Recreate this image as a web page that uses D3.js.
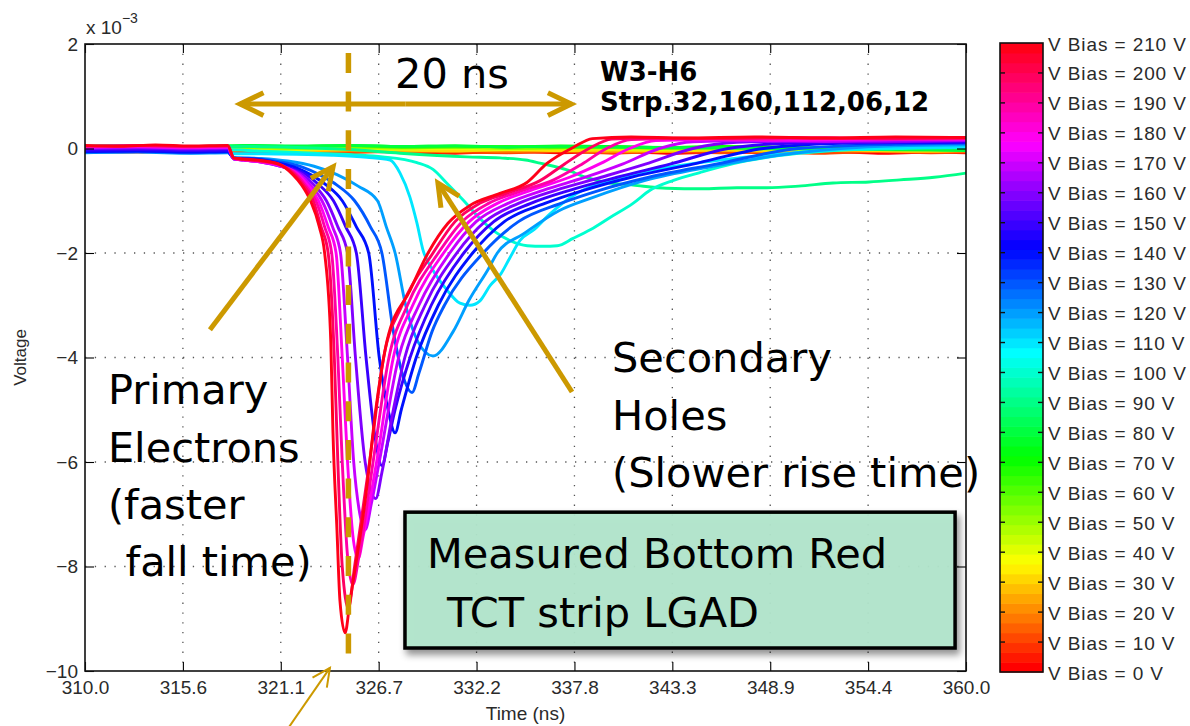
<!DOCTYPE html>
<html>
<head>
<meta charset="utf-8">
<script src="https://cdn.jsdelivr.net/npm/d3@7"></script>
<style>
  html, body { margin: 0; padding: 0; background: #ffffff; }
  svg { display: block; }
</style>
</head>
<body>
<svg id="chart" width="1190" height="726"></svg>
<script>
// ---- Bias voltages (V) and axis ticks ----
const biasVoltages = [0, 10, 20, 30, 40, 50, 60, 70, 80, 90, 100, 110, 120, 130, 140, 150, 160, 170, 180, 190, 200, 210];
const timeTicks = [310, 315.556, 321.111, 326.667, 332.222, 337.778, 343.333, 348.889, 354.444, 360];
const voltageTicks = [2, 0, -2, -4, -6, -8, -10];

// ---- Low-bias traces (no gain): sample times (ns) and voltages (x 10^-3 V) ----
const flatTimes = [310, 313, 316, 319, 322, 325, 328, 331, 334, 337, 340, 343, 346, 349, 352, 355, 358, 360];
const trace000 = [-0.05, -0.07, -0.04, -0.06, -0.08, -0.05, -0.07, -0.09, -0.06, -0.08, -0.06, -0.09, -0.07, -0.08, -0.06, -0.09, -0.07, -0.08];
const trace010 = [-0.06, -0.04, -0.07, -0.05, -0.06, -0.08, -0.05, -0.07, -0.08, -0.06, -0.09, -0.06, -0.08, -0.07, -0.09, -0.06, -0.08, -0.07];
const trace020 = [-0.03, -0.05, -0.04, -0.02, -0.05, -0.04, -0.06, -0.03, -0.05, -0.04, -0.06, -0.05, -0.03, -0.06, -0.04, -0.05, -0.06, -0.05];
const trace030 = [-0.02, -0.01, -0.03, -0.02, -0.04, -0.02, -0.03, -0.05, -0.02, -0.04, -0.03, -0.05, -0.03, -0.04, -0.02, -0.04, -0.05, -0.03];
const trace040 = [0.0, 0.01, -0.01, 0.0, -0.02, 0.01, -0.01, 0.0, -0.02, 0.0, -0.01, -0.02, 0.0, -0.01, -0.03, -0.01, -0.02, -0.02];
const trace050 = [0.02, 0.03, 0.01, 0.02, 0.0, 0.02, 0.01, 0.03, 0.0, 0.01, 0.02, 0.0, 0.01, -0.01, 0.01, 0.0, -0.01, 0.0];
const trace060 = [0.03, 0.04, 0.02, 0.04, 0.03, 0.05, 0.02, 0.03, 0.04, 0.02, 0.03, 0.01, 0.03, 0.02, 0.0, 0.02, 0.01, -0.01];
const trace070 = [0.04, 0.05, 0.03, 0.05, 0.04, 0.06, 0.04, 0.05, 0.03, 0.05, 0.04, 0.02, 0.04, 0.03, 0.01, 0.02, 0.0, -0.02];
const trace080 = [0.05, 0.06, 0.04, 0.06, 0.05, 0.06, 0.04, 0.05, 0.03, 0.04, 0.03, 0.02, 0.01, 0.0, -0.01, -0.02, -0.03, -0.04];

// ---- Traces with signal: [time (ns), voltage (x 10^-3 V)] ----
const trace090 = [[310,0.03],[313,0.04],[316,0.02],[319,0.04],[322,0.02],[325,-0.02],[327.88,-0.09],[331.68,-0.16],[333.55,-0.18],[335.0,-0.22],[335.82,-0.28],[337.36,-0.41],[338.4,-0.55],[339.6,-0.65],[341.1,-0.7],[343.0,-0.76],[345,-0.77],[347,-0.75],[348.7,-0.75],[350.5,-0.72],[352.45,-0.66],[354.5,-0.64],[356.25,-0.6],[358.2,-0.55],[360,-0.47]];
const trace100 = [[310,-0.02],[313,-0.03],[316,-0.01],[318,-0.02],[320,-0.05],[323,-0.09],[326.9,-0.16],[328.84,-0.27],[329.75,-0.4],[330.55,-0.67],[331.5,-1.0],[332.3,-1.3],[333.3,-1.6],[334.1,-1.76],[335.1,-1.86],[336.0,-1.87],[336.8,-1.86],[337.7,-1.72],[338.7,-1.55],[339.8,-1.32],[341.1,-1.05],[342.07,-0.8],[343.4,-0.61],[344.9,-0.46],[346.8,-0.29],[348.7,-0.17],[352.5,-0.04],[356,0.0],[360,0.02]];
const trace110 = [[310,-0.05],[313,-0.06],[316,-0.04],[318.1,-0.05],[318.45,-0.1],[320,-0.1],[322,-0.11],[324,-0.13],[326,-0.17],[327.31,-0.22],[327.88,-0.47],[328.44,-0.93],[328.84,-1.43],[329.18,-1.94],[329.75,-2.33],[330.55,-2.71],[331.28,-2.96],[331.85,-3.0],[332.4,-2.92],[333.0,-2.62],[333.6,-2.4],[334.1,-2.1],[334.69,-1.76],[335.5,-1.55],[336.3,-1.28],[337.9,-0.86],[339.8,-0.61],[342.07,-0.42],[344.9,-0.27],[349,-0.12],[354,0.0],[360,0.03]];
const trace120 = [[310,-0.08],[313,-0.07],[316,-0.09],[318.1,-0.08],[318.45,-0.17],[320,-0.19],[321.5,-0.24],[323,-0.34],[324.3,-0.5],[325.5,-0.72],[326.6,-1.0],[327.1,-1.5],[327.6,-2.0],[328.2,-3.0],[328.9,-3.7],[329.75,-3.97],[330.9,-3.5],[331.8,-2.9],[332.9,-2.3],[333.4,-2.0],[334.9,-1.63],[336.9,-1.19],[338.8,-0.94],[341.8,-0.61],[345.5,-0.35],[350,-0.1],[356,0.05],[360,0.07]];
const trace130 = [[310,-0.07],[313,-0.06],[316,-0.08],[318.1,-0.07],[318.45,-0.18],[319.5,-0.19],[321,-0.25],[322.3,-0.35],[323.3,-0.5],[324.3,-0.7],[325.3,-1.0],[326.2,-1.5],[326.85,-2.0],[327.5,-3.5],[328.0,-4.3],[328.56,-4.67],[328.95,-4.3],[329.7,-3.5],[330.4,-3.0],[332.6,-2.0],[334.6,-1.4],[337.0,-1.05],[339.2,-0.8],[342.0,-0.55],[345.8,-0.3],[350.5,0.0],[356,0.08],[360,0.1]];
const trace140 = [[310,-0.06],[313,-0.05],[316,-0.07],[318.1,-0.06],[318.45,-0.19],[319.5,-0.2],[321,-0.28],[322,-0.37],[322.8,-0.5],[323.7,-0.7],[324.6,-1.0],[325.4,-1.5],[326.1,-2.0],[326.7,-4.0],[327.2,-5.0],[327.6,-5.44],[327.95,-5.0],[328.8,-4.0],[330.05,-3.0],[332.0,-2.0],[333.8,-1.4],[336.1,-1.05],[338.3,-0.8],[341.0,-0.55],[344.5,-0.3],[348.5,0.0],[353,0.1],[357,0.11],[360,0.12]];
const trace150 = [[310,-0.03],[313,-0.02],[316,-0.04],[318.1,-0.03],[318.45,-0.2],[319,-0.21],[320,-0.25],[321,-0.32],[322.55,-0.5],[323.3,-0.7],[324.1,-1.0],[324.8,-1.5],[325.4,-2.0],[325.95,-4.0],[326.45,-5.5],[326.86,-6.07],[327.2,-5.6],[327.6,-5.0],[328.45,-4.0],[329.65,-3.0],[331.5,-2.0],[333.2,-1.4],[335.3,-1.05],[337.5,-0.8],[340.2,-0.55],[343.2,-0.3],[346.5,0.0],[350,0.1],[355,0.12],[360,0.13]];
const trace160 = [[310,0.0],[313,0.01],[316,-0.01],[318.1,0.0],[318.45,-0.2],[319,-0.22],[320,-0.26],[321,-0.33],[322.35,-0.5],[323.0,-0.7],[323.7,-1.0],[324.35,-1.5],[324.9,-2.0],[325.35,-4.0],[325.9,-6.0],[326.5,-6.7],[326.85,-6.2],[327.5,-5.0],[328.15,-4.0],[329.3,-3.0],[331.1,-2.0],[332.7,-1.4],[334.6,-1.05],[336.7,-0.8],[339.3,-0.55],[341.8,-0.3],[344.5,0.0],[347,0.12],[350,0.14],[355,0.13],[360,0.15]];
const trace170 = [[310,0.02],[313,0.03],[316,0.01],[318.1,0.02],[318.45,-0.2],[319,-0.22],[320,-0.26],[321,-0.33],[322.2,-0.5],[322.8,-0.7],[323.45,-1.0],[324.05,-1.5],[324.5,-2.0],[324.9,-4.0],[325.25,-6.0],[325.55,-6.9],[325.9,-7.3],[326.25,-6.8],[326.7,-6.0],[327.8,-4.0],[328.95,-3.0],[330.7,-2.0],[332.2,-1.4],[334.0,-1.05],[336.0,-0.8],[338.4,-0.55],[340.5,-0.3],[342.6,0.0],[344.5,0.13],[348,0.15],[352,0.14],[356,0.16],[360,0.16]];
const trace180 = [[310,0.03],[313,0.04],[316,0.02],[318.1,0.03],[318.45,-0.2],[319,-0.22],[320,-0.26],[321,-0.32],[322.1,-0.5],[322.65,-0.7],[323.25,-1.0],[323.8,-1.5],[324.25,-2.0],[324.6,-4.0],[324.9,-6.0],[325.2,-7.4],[325.5,-7.85],[325.8,-7.4],[326.55,-6.0],[327.5,-4.0],[328.6,-3.0],[330.35,-2.0],[331.8,-1.4],[333.4,-1.05],[335.3,-0.8],[337.5,-0.55],[339.3,-0.28],[340.9,0.0],[342.4,0.15],[346,0.17],[350,0.16],[355,0.18],[360,0.18]];
const trace190 = [[310,0.04],[313,0.05],[316,0.03],[318.1,0.04],[318.45,-0.19],[319,-0.21],[320,-0.25],[321,-0.31],[322.0,-0.5],[322.5,-0.7],[323.1,-1.0],[323.6,-1.5],[324.0,-2.0],[324.35,-4.0],[324.6,-6.0],[324.9,-7.8],[325.2,-8.35],[325.55,-7.8],[326.35,-6.0],[327.25,-4.0],[328.3,-3.0],[330.05,-2.0],[331.4,-1.4],[332.9,-1.05],[334.6,-0.83],[336.6,-0.6],[338.2,-0.3],[339.6,0.0],[341,0.17],[344,0.19],[348,0.18],[352,0.2],[356,0.18],[360,0.19]];
const trace200 = [[310,0.05],[313,0.06],[316,0.04],[318.1,0.05],[318.45,-0.19],[319,-0.21],[320,-0.24],[321,-0.3],[321.9,-0.5],[322.4,-0.7],[322.95,-1.0],[323.4,-1.5],[323.8,-2.0],[324.15,-4.0],[324.35,-6.0],[324.6,-8.0],[324.95,-8.8],[325.3,-8.0],[326.15,-6.0],[326.95,-4.0],[328.0,-3.0],[329.75,-2.0],[331.0,-1.4],[332.4,-1.05],[334.0,-0.85],[335.8,-0.62],[337.2,-0.3],[338.6,0.0],[339.9,0.18],[342,0.2],[346,0.19],[350,0.21],[355,0.19],[360,0.2]];
const trace210 = [[310,0.06],[312,0.04],[314,0.07],[316,0.05],[318.1,0.06],[318.45,-0.18],[319,-0.2],[320,-0.23],[321,-0.3],[321.8,-0.5],[322.3,-0.7],[322.8,-1.0],[323.3,-1.5],[323.6,-2.0],[323.95,-3.7],[324.07,-5.4],[324.3,-7.3],[324.47,-8.66],[324.76,-9.27],[325.04,-8.66],[325.9,-6.74],[326.57,-4.83],[327.14,-3.68],[328.44,-2.72],[329.47,-2.0],[330.6,-1.43],[331.85,-1.09],[333.55,-0.86],[335.08,-0.65],[336.2,-0.29],[337.7,0.02],[338.8,0.19],[341,0.22],[344,0.2],[348,0.22],[352,0.2],[356,0.22],[360,0.21]];

const flatTraces = [trace000, trace010, trace020, trace030, trace040, trace050, trace060, trace070, trace080];
const signalTraces = [trace090, trace100, trace110, trace120, trace130, trace140, trace150, trace160, trace170, trace180, trace190, trace200, trace210];

// one record per bias voltage, drawn from low to high bias
const traceSet = biasVoltages.map((bias, i) => ({
  bias,
  points: i < flatTraces.length ? flatTimes.map((t, k) => [t, flatTraces[i][k]]) : signalTraces[i - flatTraces.length]
}));

// ---- Layout ----
const svg = d3.select("#chart");
const plot = { left: 85, right: 966, top: 44, bottom: 671 };
const bar = { left: 1000, right: 1043, top: 43, bottom: 672 };
const gold = "#CC9900";
const tickFont = "'Liberation Sans', Arial, Helvetica, sans-serif";
const noteFont = "'DejaVu Sans', Verdana, sans-serif";

const x = d3.scaleLinear().domain([310, 360]).range([plot.left, plot.right]);
const y = d3.scaleLinear().domain([-10, 2]).range([plot.bottom, plot.top]);

// Matlab-style 64-entry HSV colormap spanning 0..210 V
const nColors = 64;
const colormap = i => d3.hsl((i / nColors) * 360, 1, 0.5).formatHex();
const biasColor = v => colormap(Math.round(v / 210 * (nColors - 1)));

const defs = svg.append("defs");
defs.append("clipPath").attr("id", "plotClip")
  .append("rect").attr("x", plot.left).attr("y", plot.top)
  .attr("width", plot.right - plot.left).attr("height", plot.bottom - plot.top);
const shadow = defs.append("filter").attr("id", "boxShadow")
  .attr("x", "-10%").attr("y", "-10%").attr("width", "125%").attr("height", "140%");
shadow.append("feDropShadow").attr("dx", 3).attr("dy", 5).attr("stdDeviation", 3.5)
  .attr("flood-color", "#000").attr("flood-opacity", 0.45);

// ---- Grid (dotted) ----
const grid = svg.append("g").attr("stroke", "#555").attr("stroke-width", 1.3)
  .attr("stroke-dasharray", "1.3,8.5");
grid.selectAll("line.gx").data(timeTicks.slice(1, -1)).join("line")
  .attr("x1", d => x(d)).attr("x2", d => x(d)).attr("y1", plot.top).attr("y2", plot.bottom);
grid.selectAll("line.gy").data(voltageTicks.slice(1, -1)).join("line")
  .attr("y1", d => y(d)).attr("y2", d => y(d)).attr("x1", plot.left).attr("x2", plot.right);

// ---- Traces ----
const line = d3.line().x(d => x(d[0])).y(d => y(d[1])).curve(d3.curveMonotoneX);
svg.append("g").attr("clip-path", "url(#plotClip)")
  .selectAll("path").data(traceSet).join("path")
  .attr("d", d => line(d.points))
  .attr("fill", "none")
  .attr("stroke", d => biasColor(d.bias))
  .attr("stroke-width", 2.9)
  .attr("stroke-linejoin", "round")
  .attr("stroke-linecap", "round");

// ---- Axes ----
function styleAxis(g) {
  g.select(".domain").remove();
  g.selectAll(".tick line").attr("stroke", "#000").attr("stroke-width", 1.1);
  g.selectAll(".tick text").attr("fill", "#2a2a2a").attr("font-family", tickFont).attr("font-size", 19);
}
svg.append("g").attr("transform", `translate(0,${plot.bottom})`)
  .call(d3.axisBottom(x).tickValues(timeTicks).tickFormat(d3.format(".1f"))
    .tickSizeInner(-9).tickSizeOuter(0).tickPadding(10))
  .call(styleAxis);
svg.append("g").attr("transform", `translate(0,${plot.top})`)
  .call(d3.axisTop(x).tickValues(timeTicks).tickFormat("").tickSizeInner(-9).tickSizeOuter(0))
  .call(styleAxis);
svg.append("g").attr("transform", `translate(${plot.left},0)`)
  .call(d3.axisLeft(y).tickValues(voltageTicks).tickFormat(d3.format("d"))
    .tickSizeInner(-9).tickSizeOuter(0).tickPadding(7))
  .call(styleAxis);
svg.append("g").attr("transform", `translate(${plot.right},0)`)
  .call(d3.axisRight(y).tickValues(voltageTicks).tickFormat("").tickSizeInner(-9).tickSizeOuter(0))
  .call(styleAxis);

svg.append("rect").attr("x", plot.left).attr("y", plot.top)
  .attr("width", plot.right - plot.left).attr("height", plot.bottom - plot.top)
  .attr("fill", "none").attr("stroke", "#111").attr("stroke-width", 1.6);

// exponent label
const expo = svg.append("text").attr("x", plot.left + 1).attr("y", 34)
  .attr("font-family", tickFont).attr("font-size", 19).attr("fill", "#2a2a2a");
expo.append("tspan").text("x 10");
expo.append("tspan").attr("dy", -11).attr("font-size", 14).text("\u22123");

// axis titles
svg.append("text").attr("x", (plot.left + plot.right) / 2).attr("y", 720)
  .attr("text-anchor", "middle").attr("font-family", tickFont).attr("font-size", 19)
  .attr("fill", "#2a2a2a").text("Time (ns)");
svg.append("text").attr("transform", `translate(26,${(plot.top + plot.bottom) / 2}) rotate(-90)`)
  .attr("text-anchor", "middle").attr("font-family", tickFont).attr("font-size", 17)
  .attr("fill", "#2a2a2a").text("Voltage");

// ---- Colorbar ----
const barScale = d3.scaleLinear().domain([0, 210]).range([bar.bottom, bar.top]);
const bandH = (bar.bottom - bar.top) / nColors;
svg.append("g").selectAll("rect").data(d3.range(nColors)).join("rect")
  .attr("x", bar.left).attr("width", bar.right - bar.left)
  .attr("y", i => bar.bottom - (i + 1) * bandH).attr("height", bandH + 0.6)
  .attr("fill", i => colormap(i));
const barTicks = svg.append("g").attr("stroke", "#111").attr("stroke-width", 1.4);
barTicks.selectAll("line.l").data(biasVoltages.slice(1, -1)).join("line")
  .attr("x1", bar.left).attr("x2", bar.left + 5).attr("y1", d => barScale(d)).attr("y2", d => barScale(d));
barTicks.selectAll("line.r").data(biasVoltages.slice(1, -1)).join("line")
  .attr("x1", bar.right - 5).attr("x2", bar.right).attr("y1", d => barScale(d)).attr("y2", d => barScale(d));
svg.append("rect").attr("x", bar.left).attr("y", bar.top)
  .attr("width", bar.right - bar.left).attr("height", bar.bottom - bar.top)
  .attr("fill", "none").attr("stroke", "#111").attr("stroke-width", 1.6);
svg.append("g").selectAll("text").data(biasVoltages).join("text")
  .attr("x", 1048).attr("y", d => barScale(d) + 1)
  .attr("dominant-baseline", "central")
  .attr("font-family", tickFont).attr("font-size", 19).attr("letter-spacing", 0.9)
  .attr("fill", "#2a2a2a")
  .text(d => `V Bias = ${d} V`);

// ---- Annotations (positions in axis units) ----
const notes = svg.append("g");

function chevronArrow(g, t1, v1, t2, v2, width, head, spread) {
  const x1 = x(t1), y1 = y(v1), x2 = x(t2), y2 = y(v2);
  const ang = Math.atan2(y1 - y2, x1 - x2);
  g.append("line").attr("x1", x1).attr("y1", y1).attr("x2", x2).attr("y2", y2)
    .attr("stroke", gold).attr("stroke-width", width);
  const pts = [
    [x2 + head * Math.cos(ang + spread), y2 + head * Math.sin(ang + spread)],
    [x2, y2],
    [x2 + head * Math.cos(ang - spread), y2 + head * Math.sin(ang - spread)]
  ];
  g.append("polyline").attr("points", pts.map(p => p.join(",")).join(" "))
    .attr("fill", "none").attr("stroke", gold).attr("stroke-width", width)
    .attr("stroke-linejoin", "miter").attr("stroke-linecap", "butt");
}

// 20 ns span
chevronArrow(notes, 328.2, 0.85, 318.8, 0.85, 5, 26, 0.45);
chevronArrow(notes, 328.2, 0.85, 337.6, 0.85, 5, 26, 0.45);

// peak time marker
notes.append("line")
  .attr("x1", x(324.95)).attr("x2", x(324.95)).attr("y1", y(1.83)).attr("y2", y(-10))
  .attr("stroke", gold).attr("stroke-width", 5.5).attr("stroke-dasharray", "20,18.7");

// pointers
chevronArrow(notes, 317.09, -3.47, 324.08, -0.35, 5, 25, 0.45);
chevronArrow(notes, 337.64, -4.66, 330.03, -0.66, 5, 25, 0.45);
chevronArrow(notes, 321.52, -11.1, 323.9, -9.94, 2, 20, 0.45);

// big labels
const big = (t, v, str, anchor) => notes.append("text")
  .attr("x", x(t)).attr("y", y(v)).attr("text-anchor", anchor || "start")
  .attr("font-family", noteFont).attr("font-size", 41.5).attr("fill", "#000").text(str);

big(330.83, 1.16, "20 ns", "middle");
notes.append("text").attr("x", x(339.23)).attr("y", y(1.29))
  .attr("font-family", noteFont).attr("font-weight", "bold").attr("font-size", 26).text("W3-H6");
notes.append("text").attr("x", x(339.23)).attr("y", y(0.72))
  .attr("font-family", noteFont).attr("font-weight", "bold").attr("font-size", 26).text("Strp.32,160,112,06,12");

big(311.3, -4.89, "Primary");
big(311.3, -6.0, "Electrons");
big(311.3, -7.09, "(faster");
big(312.3, -8.18, "fall time)");

big(339.91, -4.28, "Secondary");
big(339.91, -5.39, "Holes");
big(339.91, -6.47, "(Slower rise time)");

// measurement box
notes.append("rect")
  .attr("x", x(328.16)).attr("y", y(-6.96))
  .attr("width", x(359.38) - x(328.16)).attr("height", y(-9.56) - y(-6.96))
  .attr("fill", "#B3E6CC").attr("fill-opacity", 0.93)
  .attr("stroke", "#000").attr("stroke-width", 3.5)
  .attr("filter", "url(#boxShadow)");
big(329.41, -8.03, "Measured Bottom Red");
big(330.54, -9.16, "TCT strip LGAD");
</script>
</body>
</html>
